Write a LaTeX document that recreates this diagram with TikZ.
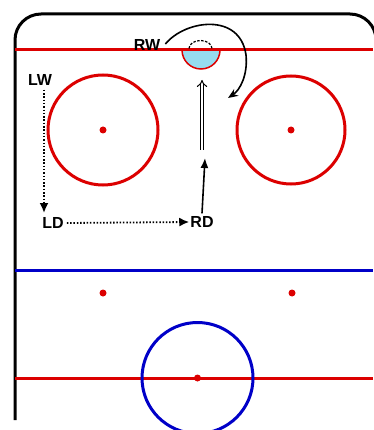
\documentclass[tikz,border=0pt]{standalone}
\usepackage{fontspec}
\setmainfont{Liberation Sans}
\usetikzlibrary{arrows.meta}
\definecolor{rinkred}{RGB}{220,0,0}
\definecolor{rinkblue}{RGB}{0,0,200}
\definecolor{crease}{RGB}{150,220,240}
\begin{document}
\begin{tikzpicture}[x=1pt,y=-1pt,
  redline/.style={rinkred,line width=3pt},
  blueline/.style={rinkblue,line width=3pt},
  wall/.style={black,line width=3pt},
  dotr/.style={fill=rinkred,draw=none},
  lbl/.style={font=\bfseries\fontsize{16}{17}\selectfont,inner sep=1pt},
  dotarrow/.style={line width=1.8pt,dash pattern=on 1.5pt off 1.8pt,-{Latex[length=10pt,width=9pt,sep=0pt]}},
  solarrow/.style={line width=1.6pt,-{Latex[length=10pt,width=8pt]}}]
\useasboundingbox (0,0) rectangle (373,430);
% rink boundary
\draw[wall,rounded corners=26pt] (15,420) -- (15,14) -- (376,14) -- (376,420);
% lines
\draw[redline] (15,50) -- (373,50);
\draw[blueline] (15,270) -- (373,270);
\draw[redline] (15,378) -- (373,378);
% crease and net
\draw[rinkred,line width=1.5pt,fill=crease] (182,50) arc[start angle=180,end angle=0,radius=19] -- cycle;
\draw[redline] (178,50) -- (224,50);
\draw[black,line width=1.2pt,dash pattern=on 2.5pt off 1.5pt] (189,48.5) arc[start angle=180,end angle=360,x radius=11.5,y radius=8];
% faceoff circles
\draw[rinkred,line width=3pt] (103,130) circle[radius=55];
\draw[rinkred,line width=3pt] (291,130) circle[radius=54];
\fill[dotr] (103,130) circle[radius=3.5];
\fill[dotr] (291,130) circle[radius=3.5];
\fill[dotr] (103,293) circle[radius=3.5];
\fill[dotr] (292,293) circle[radius=3.5];
\draw[rinkblue,line width=3pt] (197.5,378) circle[radius=55.5];
\fill[dotr] (197.5,378) circle[radius=3.5];
% labels
\node[lbl] (rw) at (147,45) {RW};
\node[lbl] (lw) at (40,80) {LW};
\node[lbl] (ld) at (53,223) {LD};
\node[lbl] (rd) at (202,222) {RD};
\coordinate (rwend) at (228,98);
\coordinate (dtop) at (202,80);
\coordinate (dbot) at (202,150);
\coordinate (rdtip) at (205,158);
% arrows
\draw[dotarrow] (lw.south -| 44,0) ++(0,3) -- (44,213);
\draw[dotarrow] (ld.east) ++(2,0) -- (rd.west);
\draw[solarrow] (rd.north) ++(0,-2) -- (rdtip);
\draw[line width=1.6pt,-{Stealth[length=10pt,width=8pt]}] (rw.east) ++(4,-1)
  .. controls (185,20) and (240,12) .. (246,55)
  .. controls (248,75) and (240,90) .. (rwend);
\draw[double=white,double distance=2.5pt,line width=1pt,-{Implies[length=8pt]}] (dbot) -- (dtop);
\end{tikzpicture}
\end{document}
